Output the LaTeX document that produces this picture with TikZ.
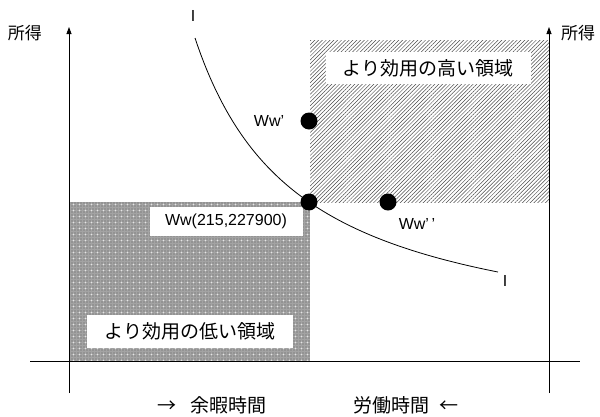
\documentclass[tikz,border=0pt]{standalone}
\usepackage{fontspec}
\setmainfont{Liberation Sans}
\newfontfamily\jp{Noto Sans CJK JP}
\usetikzlibrary{patterns,patterns.meta,arrows.meta}
\begin{document}
\begin{tikzpicture}[x=1pt,y=-1pt,
  axis/.style={line width=0.8pt},
  axarrow/.style={axis,-{Triangle[length=7pt,width=5pt]}},
  dot/.style={circle,fill=black,inner sep=0pt,minimum size=17pt},
  jplabel/.style={font=\jp\fontsize{19}{22}\selectfont,inner sep=0pt},
  jpsmall/.style={font=\jp\fontsize{17}{20}\selectfont,inner sep=0pt},
  latlabel/.style={font=\fontsize{16}{19}\selectfont,inner sep=0pt},
  whitebox/.style={fill=white,inner sep=0pt}]
\useasboundingbox (0,0) rectangle (600,416);
% regions
\fill[black!36] (70,202) rectangle (310,361);
\pattern[pattern={Dots[distance=3pt,radius=0.7pt]},pattern color=black!62] (70,202) rectangle (310,361);
\pattern[pattern={Dots[distance=6pt,radius=0.9pt,xshift=1.5pt,yshift=1.5pt]},pattern color=white!90!black] (70,202) rectangle (310,361);
\pattern[pattern={Lines[angle=45,distance=2.7pt,line width=0.5pt]},pattern color=black!70] (310,40) rectangle (549,202);
% axes
\coordinate (lb) at (69,393); \coordinate (lt) at (69,27);
\coordinate (rb) at (549,393); \coordinate (rt) at (549,27);
\coordinate (hl) at (30,361); \coordinate (hr) at (580,361);
\draw[axarrow] (lb) -- (lt);
\draw[axarrow] (rb) -- (rt);
\draw[axis] (hl) -- (hr);
% indifference curve
\draw[line width=0.8pt] plot[domain=195:498,samples=100] (\x,{353.1-100*(330.85/(\x-90))});
\node[latlabel] (itop) at (193,16) {I};
\node[latlabel] (ibot) at (505,281) {I};
% white label boxes
\node[whitebox,jplabel,minimum width=205pt,minimum height=32pt] (high) at (428,68) {より効用の高い領域};
\node[whitebox,jplabel,minimum width=206pt,minimum height=33pt] (low) at (190,331.5) {より効用の低い領域};
\node[whitebox,latlabel,minimum width=153pt,minimum height=29pt] (wwlab) at (226,221.5) {Ww(215,227900)};
% points
\node[dot] (ww) at (309,202) {};
\node[dot] (wwp) at (309,121) {};
\node[dot] (wwpp) at (388,202) {};
\node[latlabel] (wwplab) at (269,121) {Ww’};
\node[latlabel] (wwpplab) at (417,224) {Ww’\,’};
% axis labels
\node[jpsmall] (yl) at (25,33) {所得};
\node[jpsmall] (yr) at (578,33) {所得};
\node[jplabel,anchor=west] (xl) at (157,405) {→\hspace{14pt}余暇時間};
\node[jplabel,anchor=east] (xr) at (459,405) {労働時間\hspace{10pt}←};
\end{tikzpicture}
\end{document}
